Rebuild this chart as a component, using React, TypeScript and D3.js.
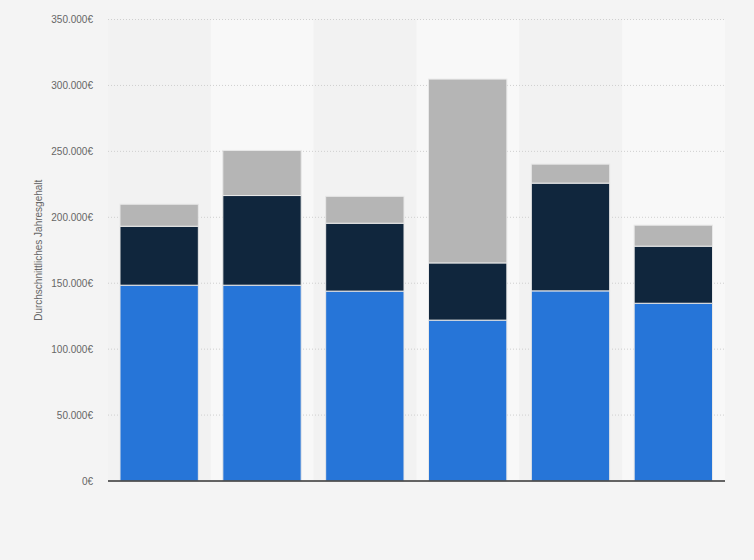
import { useEffect, useRef } from "react";
import * as d3 from "d3";

// categories have no visible labels in the chart
const categories = ["A", "B", "C", "D", "E", "F"];
const baseSalary = [148500, 148500, 144000, 122000, 144200, 134800];
const bonus = [44700, 68000, 51500, 43400, 81700, 43300];
const extra = [16700, 34200, 20400, 139400, 14400, 15900];
const yTicks = [0, 50000, 100000, 150000, 200000, 250000, 300000, 350000];

const seriesKeys = ["baseSalary", "bonus", "extra"];
const colors = ["#2675d8", "#10263d", "#b5b5b5"];

export default function App() {
  const width = 754;
  const height = 560;
  const marginTop = 19.5;
  const marginRight = 29;
  const marginBottom = 79;
  const marginLeft = 108;

  const chart = useRef(null);

  useEffect(() => {
    const svg = d3.select(chart.current);
    svg.selectAll("*").remove();

    const rows = categories.map((c, i) => ({
      cat: c,
      baseSalary: baseSalary[i],
      bonus: bonus[i],
      extra: extra[i],
    }));

    const x = d3.scaleBand()
      .domain(categories)
      .range([marginLeft, width - marginRight])
      .paddingInner(0)
      .paddingOuter(0);

    const y = d3.scaleLinear()
      .domain([0, 350000])
      .range([height - marginBottom, marginTop]);

    svg.append("rect")
      .attr("width", width)
      .attr("height", height)
      .attr("fill", "#f4f4f4");

    // alternating column bands
    svg.append("g")
      .selectAll()
      .data(categories)
      .join("rect")
      .attr("x", d => x(d))
      .attr("y", marginTop)
      .attr("width", x.bandwidth())
      .attr("height", y(0) - marginTop)
      .attr("fill", (d, i) => (i % 2 === 0 ? "#f2f2f2" : "#f8f8f8"));

    // grid lines
    svg.append("g")
      .selectAll()
      .data(yTicks.filter(t => t > 0))
      .join("line")
      .attr("x1", marginLeft)
      .attr("x2", width - marginRight)
      .attr("y1", d => y(d))
      .attr("y2", d => y(d))
      .attr("stroke", "#cfcfcf")
      .attr("stroke-width", 1)
      .attr("stroke-dasharray", "1,2");

    // tick labels
    const fmt = (v) => d3.format(",")(v).replace(/,/g, ".") + "€";
    svg.append("g")
      .selectAll()
      .data(yTicks)
      .join("text")
      .attr("x", 93)
      .attr("y", d => y(d))
      .attr("dy", "0.35em")
      .attr("text-anchor", "end")
      .attr("fill", "#666")
      .style("font", "10px 'Liberation Sans', Arial, sans-serif")
      .text(fmt);

    // y axis title
    svg.append("text")
      .attr("transform", `translate(42,${(marginTop + y(0)) / 2}) rotate(-90)`)
      .attr("text-anchor", "middle")
      .attr("fill", "#666")
      .style("font", "10px 'Liberation Sans', Arial, sans-serif")
      .text("Durchschnittliches Jahresgehalt");

    const stack = d3.stack().keys(seriesKeys)(rows);

    const barPad = 12;
    svg.append("g")
      .selectAll()
      .data(stack)
      .join("g")
      .attr("fill", (d, i) => colors[i])
      .selectAll()
      .data(d => d)
      .join("rect")
      .attr("x", d => x(d.data.cat) + barPad)
      .attr("width", x.bandwidth() - barPad * 2 - 0.5)
      .attr("y", d => y(d[1]))
      .attr("height", d => y(d[0]) - y(d[1]))
      .attr("stroke", "#e8e8e8")
      .attr("stroke-width", 1);

    // base axis line
    svg.append("line")
      .attr("x1", marginLeft)
      .attr("x2", width - marginRight)
      .attr("y1", y(0))
      .attr("y2", y(0))
      .attr("stroke", "#333")
      .attr("stroke-width", 1.5);
  }, []);

  return (
    <div style={{ position: "absolute", left: 0, top: 0 }}>
      <svg ref={chart} width={width} height={height} style={{ display: "block" }} />
    </div>
  );
}
